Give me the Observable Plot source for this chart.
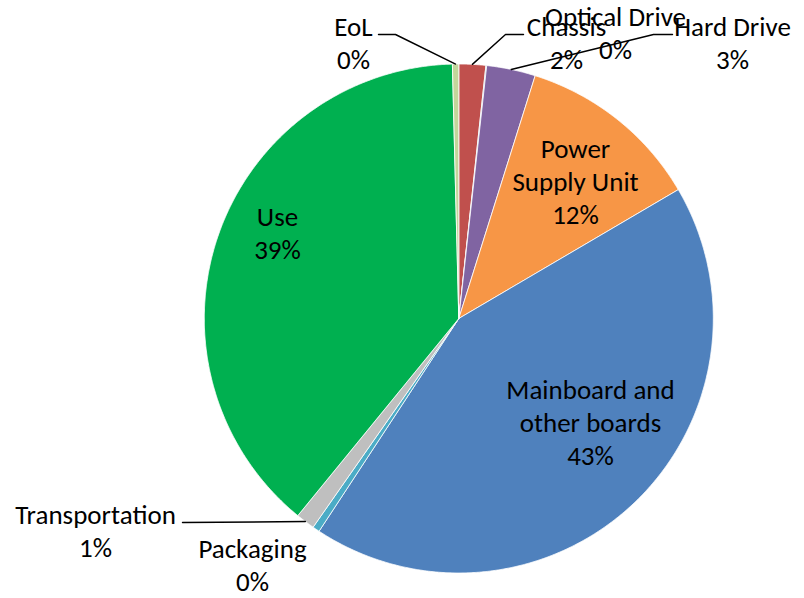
<!DOCTYPE html>
<html><head><meta charset="utf-8">
<script src="https://cdn.jsdelivr.net/npm/d3@7"></script>
<script src="https://cdn.jsdelivr.net/npm/@observablehq/plot@0.6"></script>
<style>body{margin:0;background:#fff}</style>
</head><body><div id="chart"></div>
<script>
// ---- data ----
const categories = ["Chassis","Optical Drive","Hard Drive","Power Supply Unit","Mainboard and other boards","Packaging","Transportation","Use","EoL"];
const shares = [1.7, 0.05, 3.1, 11.7, 42.7, 0.45, 1.2, 38.7, 0.4];
const labelNames = ["Chassis","Optical Drive","Hard Drive","Power\nSupply Unit","Mainboard and\nother boards","Packaging","Transportation","Use","EoL"];

// ---- styles / layout ----
const colors = ["#C0504D","#4BACC6","#8064A2","#F79646","#4F81BD","#4BACC6","#BFBFBF","#00B050","#C3D69B"];
const W = 804, H = 598, cx = 458.3, cy = 318, R = 254.5;
const FONT = "Carlito, Lato, 'Liberation Sans', sans-serif";
const FS = 27;
const DY = -2.5; // small vertical nudge of all label blocks
// label block centres (pixels)
const labelPos = {
  "Chassis": [566, 43.5], "Optical Drive": [615, 33.5], "Hard Drive": [732, 43.5],
  "Power Supply Unit": [575, 182], "Mainboard and other boards": [590, 423.5],
  "Packaging": [252, 566], "Transportation": [95, 531.5], "Use": [277, 233.5], "EoL": [353, 43.5]
};
// leader lines: extra points after the slice edge (pixels)
const leaders = {
  "EoL": [[395, 34], [378, 34]],
  "Chassis": [[505, 34], [523, 34]],
  "Hard Drive": [[653, 34], [672, 34]],
  "Transportation": [[182, 522]]
};

const ux = px => (px - cx) / R;
const uy = py => (cy - py) / R;

const arcs = d3.pie().sort(null).value(d => d)(shares);

const slicePts = [];
arcs.forEach((a, i) => {
  const name = categories[i];
  slicePts.push({name, x: 0, y: 0});
  const n = Math.max(2, Math.ceil((a.endAngle - a.startAngle) / (Math.PI / 720)));
  for (let k = 0; k <= n; k++) {
    const t = a.startAngle + (a.endAngle - a.startAngle) * k / n;
    slicePts.push({name, x: Math.sin(t), y: Math.cos(t)});
  }
  slicePts.push({name, x: 0, y: 0});
});

const labels = categories.map((name, i) => ({
  name,
  text: labelNames[i] + "\n" + Math.round(shares[i]) + "%",
  x: ux(labelPos[name][0]), y: uy(labelPos[name][1] + DY)
}));

const leaderPts = [];
arcs.forEach((a, i) => {
  const name = categories[i];
  if (!leaders[name]) return;
  const m = (a.startAngle + a.endAngle) / 2;
  leaderPts.push({name, x: Math.sin(m), y: Math.cos(m)});
  leaders[name].forEach(p => leaderPts.push({name, x: ux(p[0]), y: uy(p[1])}));
});

const chart = Plot.plot({
  width: W, height: H, margin: 0,
  x: {domain: [-1, 1], range: [cx - R, cx + R], axis: null},
  y: {domain: [-1, 1], range: [cy + R, cy - R], axis: null},
  color: {domain: categories, range: colors},
  style: {fontFamily: FONT, background: "#fff"},
  marks: [
    Plot.line(slicePts, {x: "x", y: "y", z: "name", fill: "name", stroke: "#fff", strokeWidth: 0.8, curve: "linear"}),
    Plot.line(leaderPts, {x: "x", y: "y", z: "name", stroke: "#000", strokeWidth: 1.4}),
    Plot.text(labels, {x: "x", y: "y", text: "text", fontSize: FS, lineHeight: 1.225, lineAnchor: "middle", fill: "#000", fontFamily: FONT})
  ]
});
document.getElementById("chart").appendChild(chart);
</script>
</body></html>
